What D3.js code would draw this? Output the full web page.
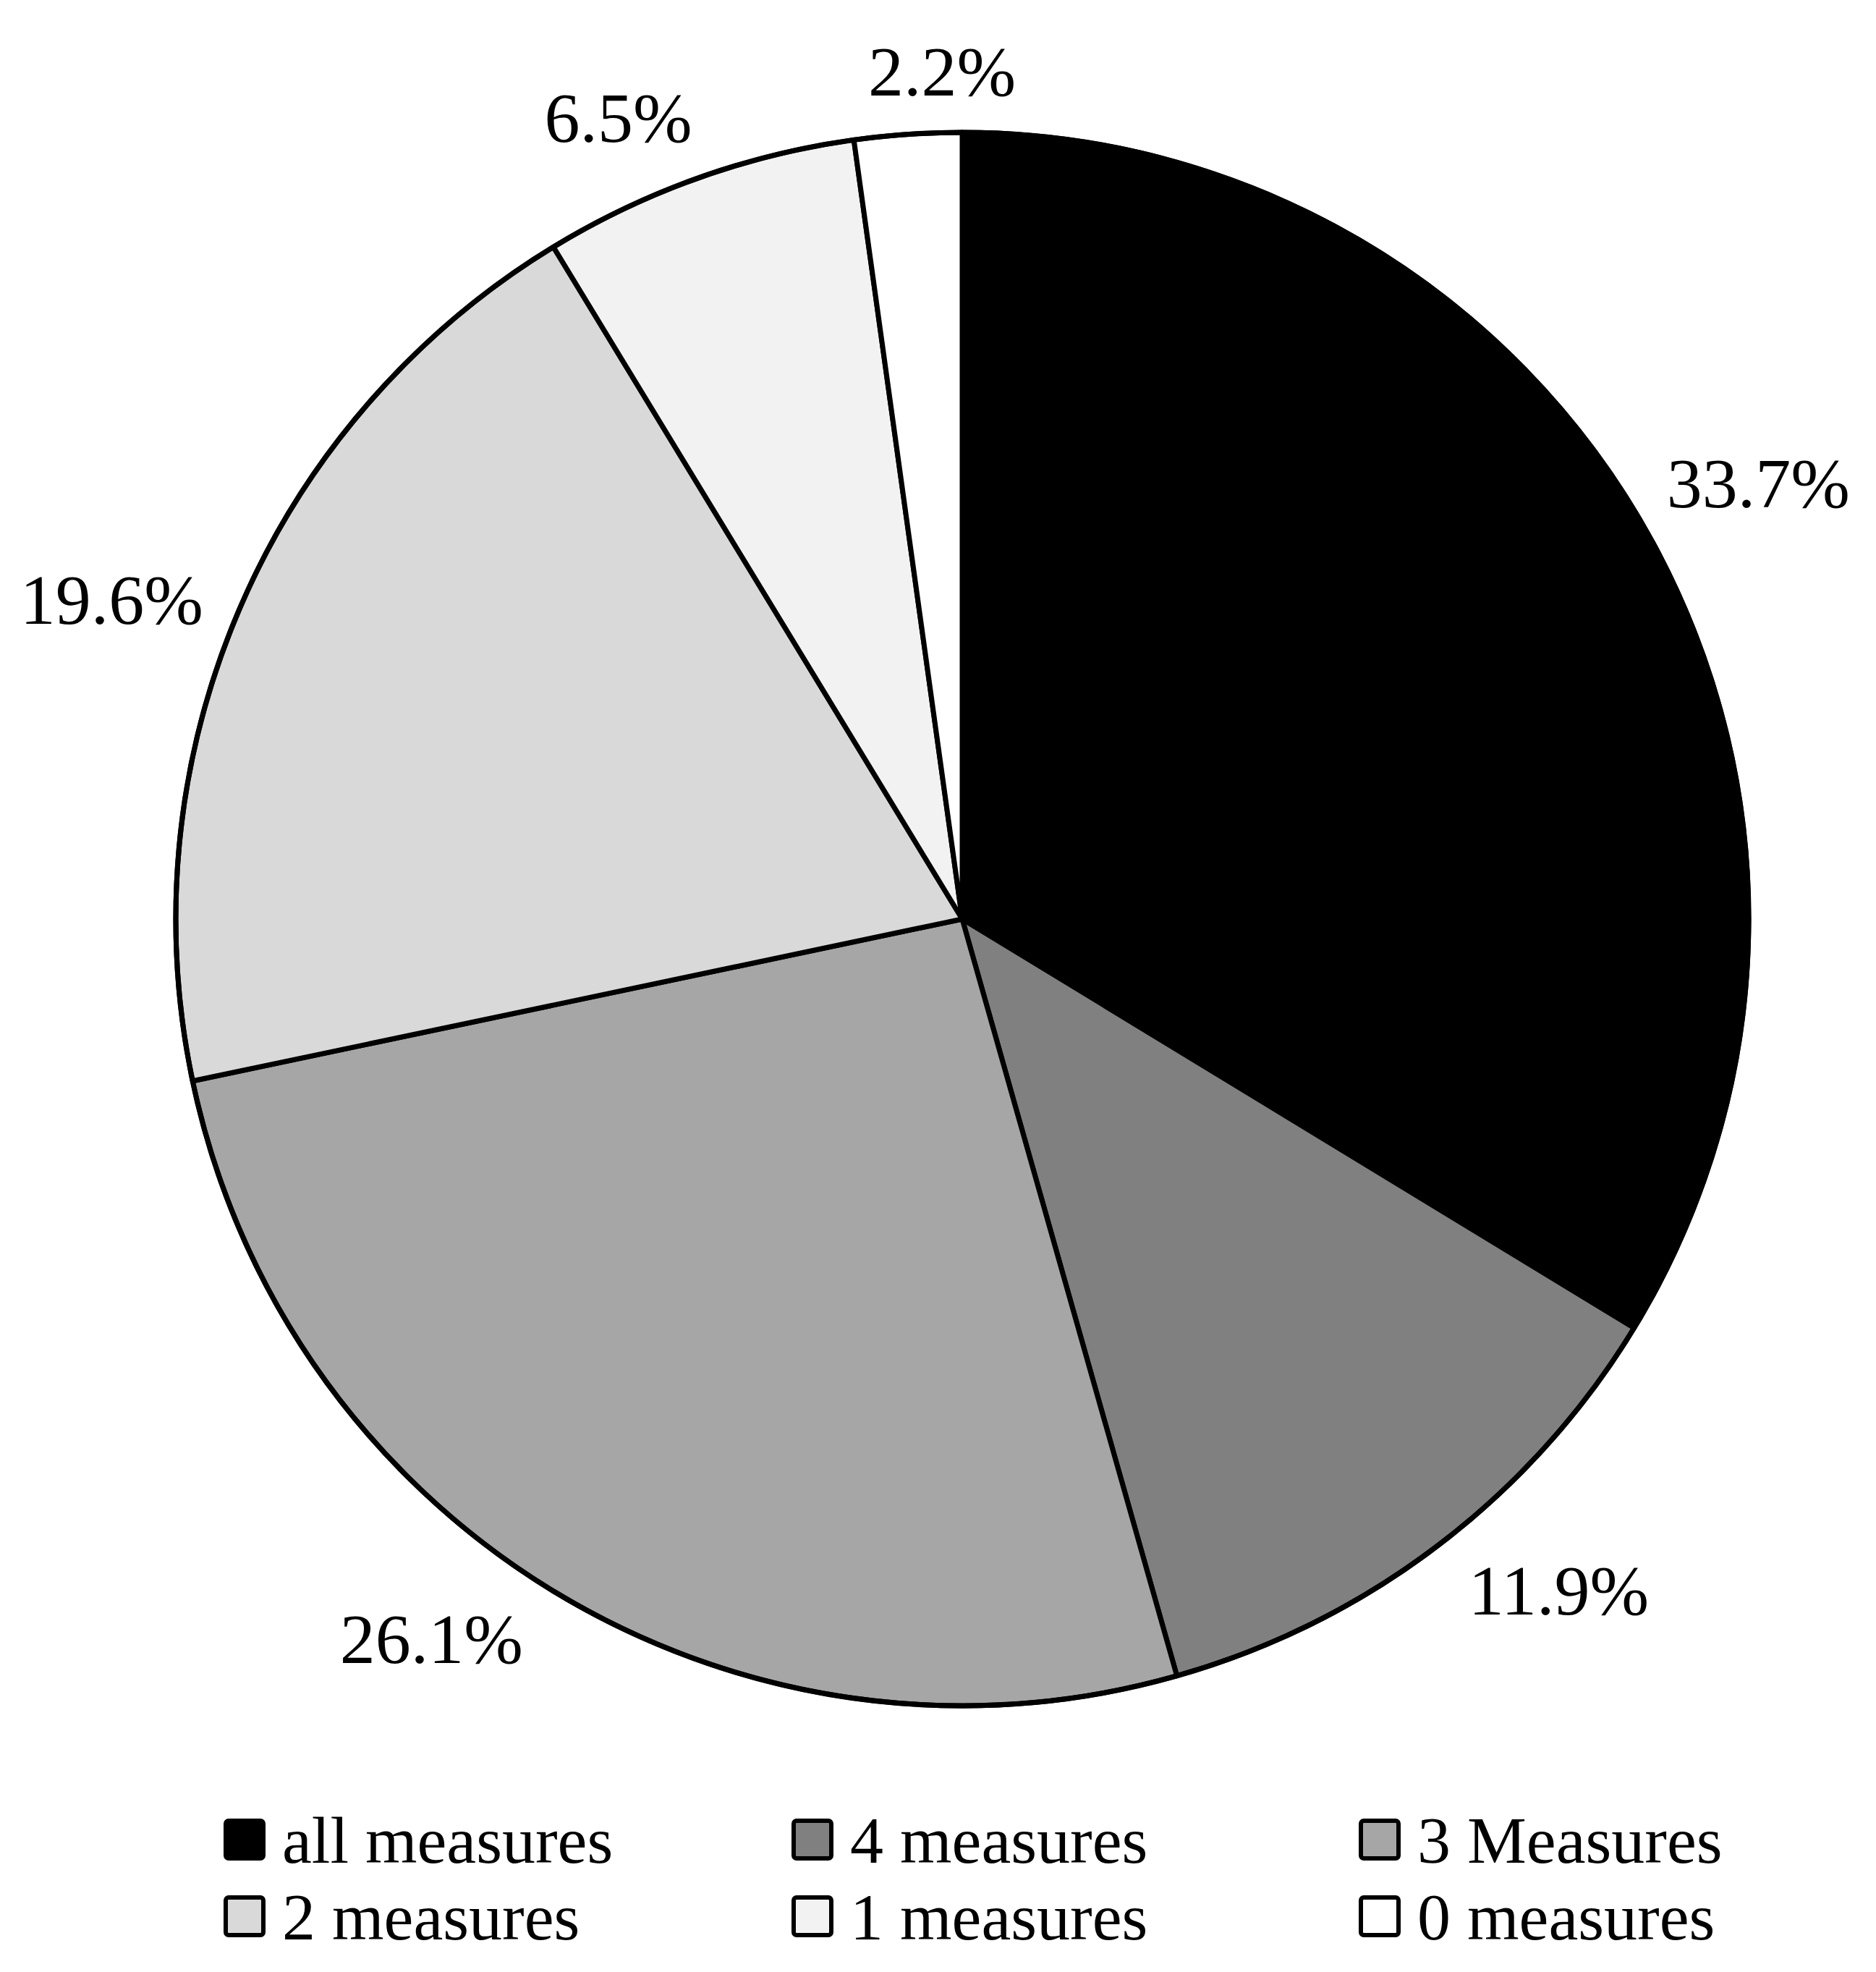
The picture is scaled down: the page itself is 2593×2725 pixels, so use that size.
<!DOCTYPE html>
<html>
<head>
<meta charset="utf-8">
<title>measures pie</title>
<style>
  body { margin: 0; background: #fff; }
  text { font-family: "Liberation Serif", "Times New Roman", serif; fill: #000; }
</style>
</head>
<body>
<script src="https://d3js.org/d3.v7.min.js"></script>
<script>

var width = 2593,
    height = 2725;

// slices, clockwise from 12 o'clock
var categories = ["all measures", "4 measures", "3 Measures", "2 measures", "1 measures", "0 measures"];
var shares = [33.7, 11.9, 26.1, 19.6, 6.5, 2.2];
var fills = ["#000000", "#808080", "#a6a6a6", "#d9d9d9", "#f2f2f2", "#ffffff"];

// small angular nudges (degrees) for the outside labels, like the original layout
var labelNudge = [0.6, -4.4, 5.3, -2.8, -3.6, 2.6];

var cx = 1330, cy = 1270,
    radius = 1087,
    labelGap = 1120;

var svg = d3.select("body").append("svg")
    .attr("width", width)
    .attr("height", height);

var color = d3.scaleOrdinal().domain(categories).range(fills);

var data = categories.map(function (c, i) { return { name: c, value: shares[i], nudge: labelNudge[i] }; });

var pie = d3.pie()
    .sort(null)
    .value(function (d) { return d.value; });

var arc = d3.arc()
    .innerRadius(0)
    .outerRadius(radius);

var arcs = pie(data);

var g = svg.append("g").attr("transform", "translate(" + cx + "," + cy + ")");

g.selectAll("path.slice")
  .data(arcs)
  .enter().append("path")
    .attr("class", "slice")
    .attr("d", arc)
    .attr("fill", function (d) { return color(d.data.name); })
    .attr("stroke", "#000")
    .attr("stroke-width", 7)
    .attr("stroke-linejoin", "round");

// outer rim
g.append("circle")
    .attr("r", radius)
    .attr("fill", "none")
    .attr("stroke", "#000")
    .attr("stroke-width", 7);

// labels outside the rim
var fontSize = 98;
g.selectAll("text.lbl")
  .data(arcs)
  .enter().append("text")
    .attr("class", "lbl")
    .attr("font-size", fontSize)
    .attr("text-anchor", "middle")
    .attr("dy", "0.35em")
    .text(function (d) { return d.data.value.toFixed(1) + "%"; })
    .each(function (d) {
      var a = (d.startAngle + d.endAngle) / 2 + d.data.nudge * Math.PI / 180,
          ux = Math.sin(a), uy = -Math.cos(a),
          w = this.getComputedTextLength(),
          h = 100;
      // push the label box out until its nearest edge sits at labelGap
      var ext = Math.abs(ux) * w / 2 + Math.abs(uy) * h / 2,
          r = labelGap + ext;
      d3.select(this).attr("x", r * ux).attr("y", r * uy);
    });

// legend
var legCols = [312, 1097, 1881],
    legRows = [2542, 2648],
    box = 52;

var leg = svg.selectAll("g.leg")
  .data(data)
  .enter().append("g")
    .attr("class", "leg")
    .attr("transform", function (d, i) {
      return "translate(" + legCols[i % 3] + "," + legRows[Math.floor(i / 3)] + ")";
    });

leg.append("rect")
    .attr("x", 0)
    .attr("y", -box / 2)
    .attr("width", box)
    .attr("height", box)
    .attr("rx", 4)
    .attr("fill", function (d) { return color(d.name); })
    .attr("stroke", "#000")
    .attr("stroke-width", 6);

leg.append("text")
    .attr("x", box + 26)
    .attr("dy", "0.35em")
    .attr("font-size", 92)
    .text(function (d) { return d.name; });

</script>
</body>
</html>
